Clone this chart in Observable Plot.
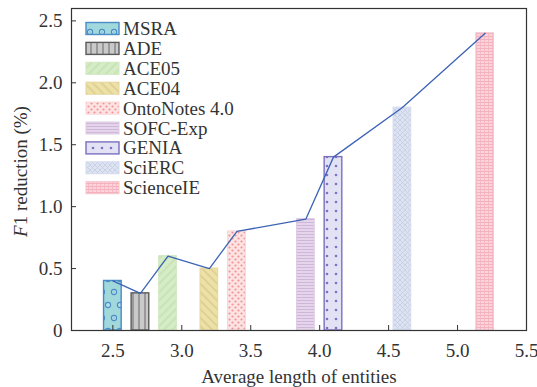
<!DOCTYPE html>
<html><head><meta charset="utf-8">
<script src="https://cdn.jsdelivr.net/npm/d3@7"></script>
<script src="https://cdn.jsdelivr.net/npm/@observablehq/plot@0.6"></script>
<style>
body{margin:0;background:#fff;}
#chart{position:relative;width:537px;height:387px;}
#chart svg{position:absolute;left:0;top:0;}
</style></head><body><div id="chart"></div>
<script>
// ---- data ----
const datasets = ["MSRA","ADE","ACE05","ACE04","OntoNotes 4.0","SOFC-Exp","GENIA","SciERC","ScienceIE"];
const avgLength = [2.5, 2.7, 2.9, 3.2, 3.4, 3.9, 4.1, 4.6, 5.2];
const f1Reduction = [0.4, 0.3, 0.6, 0.5, 0.8, 0.9, 1.4, 1.8, 2.4];
const xTicks = [2.5, 3.0, 3.5, 4.0, 4.5, 5.0, 5.5];
const yTicks = [0, 0.5, 1.0, 1.5, 2.0, 2.5];
const xLabel = "Average length of entities";
const yLabel = "F1 reduction (%)";

// ---- styles ----
const strokes = ["#4a8cc6","#5a5a5a","#cfe6bd","#e3d59a","#fbd3d3","#dccbe2","#7b70c0","#d5dced","#f6c3cd"];
const strokeW = [1.4,1.4,1,1,1,1,1.4,1,1];
const font = "'Liberation Serif','Times New Roman',serif";
const ink = "#333";

const data = datasets.map((name, i) => ({name, i, x: avgLength[i], v: f1Reduction[i]}));
const halfW = 0.064;

const chart = document.getElementById("chart");

// overlay svg with pattern defs + legend
const ns = "http://www.w3.org/2000/svg";
const over = document.createElementNS(ns, "svg");
over.setAttribute("width", 537); over.setAttribute("height", 387);
over.style.pointerEvents = "none";
over.innerHTML = `
<defs>
 <pattern id="p0" patternUnits="userSpaceOnUse" width="12" height="26">
  <rect width="12" height="26" fill="#a0d8dc"/>
  <circle cx="6" cy="6" r="2.6" fill="#b6e1e4" stroke="#4a8cc6" stroke-width="1.1"/>
  <circle cx="6" cy="6" r="0.6" fill="#4a8cc6"/>
  <circle cx="0" cy="19" r="2.6" fill="#b6e1e4" stroke="#4a8cc6" stroke-width="1.1"/>
  <circle cx="12" cy="19" r="2.6" fill="#b6e1e4" stroke="#4a8cc6" stroke-width="1.1"/>
 </pattern>
 <pattern id="p1" patternUnits="userSpaceOnUse" width="6" height="5">
  <rect width="6" height="5" fill="#c9c9c9"/>
  <line x1="1" y1="0" x2="1" y2="5" stroke="#7f7f7f" stroke-width="1.3"/>
 </pattern>
 <pattern id="p2" patternUnits="userSpaceOnUse" width="6" height="6" patternTransform="rotate(45)">
  <rect width="6" height="6" fill="#d5ecc6"/>
  <line x1="1" y1="0" x2="1" y2="6" stroke="#bfdea9" stroke-width="1.2"/>
 </pattern>
 <pattern id="p3" patternUnits="userSpaceOnUse" width="6" height="6" patternTransform="rotate(-45)">
  <rect width="6" height="6" fill="#ede1aa"/>
  <line x1="1" y1="0" x2="1" y2="6" stroke="#d8c680" stroke-width="1.2"/>
 </pattern>
 <pattern id="p4" patternUnits="userSpaceOnUse" width="6" height="6">
  <rect width="6" height="6" fill="#fde3e3"/>
  <circle cx="1.5" cy="1.5" r="1.1" fill="#f29393"/>
  <circle cx="4.5" cy="4.5" r="1.1" fill="#f29393"/>
 </pattern>
 <pattern id="p5" patternUnits="userSpaceOnUse" width="4" height="3">
  <rect width="4" height="3" fill="#e4d5ea"/>
  <line x1="0" y1="0.5" x2="4" y2="0.5" stroke="#cfb6da" stroke-width="1"/>
 </pattern>
 <pattern id="p6" patternUnits="userSpaceOnUse" width="9" height="9">
  <rect width="9" height="9" fill="#e2e2f4"/>
  <circle cx="3" cy="4" r="1.3" fill="#7d72c2"/>
  <circle cx="12" cy="4" r="1.3" fill="#7d72c2"/>
 </pattern>
 <pattern id="p7" patternUnits="userSpaceOnUse" width="5" height="5">
  <rect width="5" height="5" fill="#dde3f1"/>
  <path d="M0,0L5,5M5,0L0,5" stroke="#c6cfe5" stroke-width="0.9"/>
 </pattern>
 <pattern id="p8" patternUnits="userSpaceOnUse" width="4" height="3">
  <rect width="4" height="3" fill="#fbd3da"/>
  <line x1="0" y1="0.5" x2="4" y2="0.5" stroke="#f2a8b5" stroke-width="0.8"/>
  <line x1="0.5" y1="0" x2="0.5" y2="3" stroke="#f4b4c0" stroke-width="0.8"/>
 </pattern>
</defs>`;

const plot = Plot.plot({
  width: 537, height: 387,
  marginLeft: 71, marginRight: 11, marginTop: 8, marginBottom: 57,
  style: {fontFamily: font, fontSize: "19px", color: ink, background: "transparent"},
  x: {domain: [2.2, 5.5]},
  y: {domain: [0, 2.6]},
  marks: [
    Plot.rectY(data, {
      x1: d => d.x - halfW, x2: d => d.x + halfW, y: "v",
      fill: d => `url(#p${d.i})`,
      stroke: d => strokes[d.i], strokeWidth: d => strokeW[d.i]
    }),
    Plot.line(data, {x: "x", y: "v", stroke: "#3b63b6", strokeWidth: 1.3}),
    Plot.frame({stroke: ink, strokeWidth: 1.2}),
    Plot.axisX(xTicks, {tickSize: -5, tickPadding: 17.5, tickFormat: d => d.toFixed(1), label: null, stroke: ink, fill: ink}),
    Plot.axisY(yTicks, {tickSize: -5, tickPadding: 14, tickFormat: d => d === 0 ? "0" : d.toFixed(1), label: null, stroke: ink, fill: ink}),
    Plot.text([xLabel], {frameAnchor: "bottom", dy: 52, lineAnchor: "bottom", fill: ink, fontSize: 19}),
    Plot.text([yLabel], {frameAnchor: "left", textAnchor: "middle", rotate: -90, dx: -51, dy: 2, fill: ink, fontSize: 19})
  ]
});
chart.appendChild(plot);

// italic F in y label
plot.querySelectorAll("text").forEach(t => {
  if (t.textContent === yLabel) {
    t.textContent = "";
    const a = document.createElementNS(ns, "tspan"); a.setAttribute("font-style", "italic"); a.textContent = "F";
    const b = document.createElementNS(ns, "tspan"); b.textContent = yLabel.slice(1);
    t.appendChild(a); t.appendChild(b);
  }
});

// legend
const lg = document.createElementNS(ns, "g");
datasets.forEach((name, i) => {
  const cy = 28.5 + i * 19.9;
  const r = document.createElementNS(ns, "rect");
  r.setAttribute("x", 86); r.setAttribute("y", cy - 6); r.setAttribute("width", 33); r.setAttribute("height", 12);
  r.setAttribute("fill", `url(#p${i})`); r.setAttribute("stroke", strokes[i]); r.setAttribute("stroke-width", strokeW[i]);
  lg.appendChild(r);
  const t = document.createElementNS(ns, "text");
  t.setAttribute("x", 123); t.setAttribute("y", cy + 6.5);
  t.setAttribute("font-family", font); t.setAttribute("font-size", 19); t.setAttribute("fill", ink);
  t.textContent = name;
  lg.appendChild(t);
});
over.appendChild(lg);
chart.appendChild(over);
</script>
</body></html>
